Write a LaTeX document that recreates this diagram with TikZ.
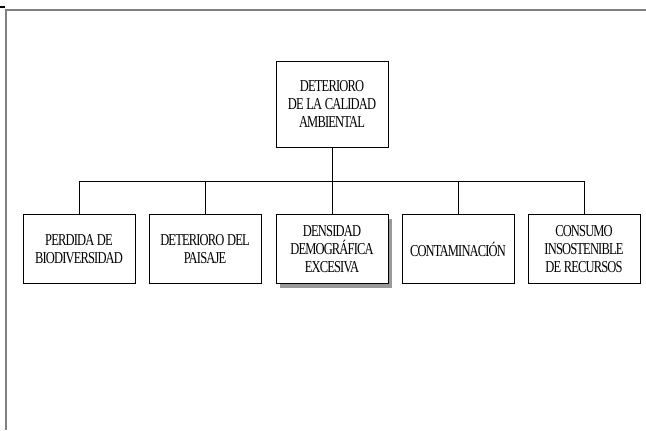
\documentclass[tikz,border=0pt]{standalone}
\usepackage{fontspec}
\setmainfont{Liberation Serif}
\newfontfamily\boxfont[FakeStretch=0.75,LetterSpace=-5]{Liberation Serif}
\newcommand\boxfontset{\boxfont\fontsize{12.5}{13.5}\selectfont\spaceskip=2pt\relax}
\usetikzlibrary{shadows}
\tikzset{
  box/.style={draw, line width=0.75pt, fill=white, align=center, inner sep=0pt,
    font=\boxfontset},
  small/.style={box, minimum width=84pt, minimum height=51.75pt},
  big/.style={box, minimum width=84pt, minimum height=64.5pt},
  frame/.style={draw=gray, line width=1.5pt},
  link/.style={draw, line width=0.75pt}
}
\begin{document}
\begin{tikzpicture}[x=0.75pt, y=-0.75pt]
\useasboundingbox (0,0) rectangle (646,430);
\coordinate (fa) at (6,430);
\coordinate (fb) at (6,10);
\coordinate (fc) at (646,10);
\draw[frame] (fa) -- (fb) -- (fc);
\coordinate (ta) at (0,6.5);
\coordinate (tb) at (5,6.5);
\draw[line width=1.5pt] (ta) -- (tb);

\node[big] (top) at (332,104) {DETERIORO\\DE LA CALIDAD\\AMBIENTAL};
\node[small] (b1) at (79,249) {PERDIDA DE\\BIODIVERSIDAD};
\node[small] (b2) at (205,249) {DETERIORO DEL\\PAISAJE};
\node[small, drop shadow={shadow xshift=3pt, shadow yshift=-3.5pt, fill=gray!80, opacity=1}] (b3) at (332,249) {DENSIDAD\\DEMOGRÁFICA\\EXCESIVA};
\node[small] (b4) at (458,249) {CONTAMINACIÓN};
\node[small] (b5) at (584,249) {CONSUMO\\INSOSTENIBLE\\DE RECURSOS};

\coordinate (bar) at (332,181);
\draw[link] (top.south) -- (bar);
\draw[link] (b1.north) -- (b1.north |- bar) -- (b5.north |- bar) -- (b5.north);
\draw[link] (b2.north) -- (b2.north |- bar);
\draw[link] (b3.north) -- (b3.north |- bar);
\draw[link] (b4.north) -- (b4.north |- bar);
\end{tikzpicture}
\end{document}
